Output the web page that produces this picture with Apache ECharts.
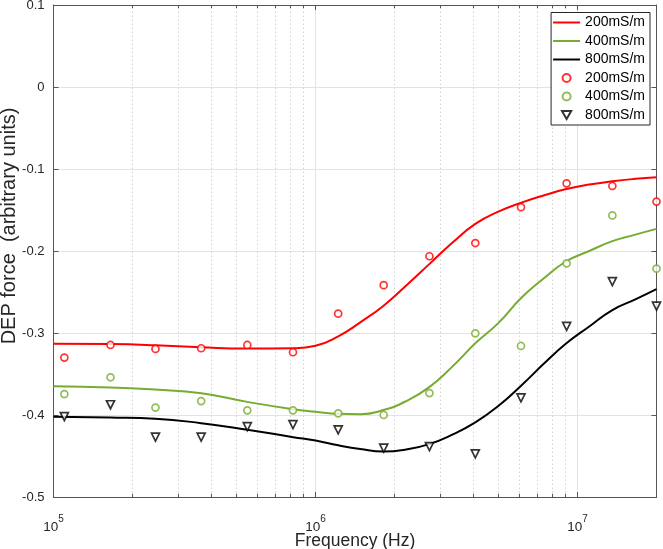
<!DOCTYPE html>
<html>
<head>
<meta charset="utf-8">
<script src="https://cdn.jsdelivr.net/npm/echarts@6/dist/echarts.min.js"></script>
<style>
html,body{margin:0;padding:0;background:#fff;}
#chart{width:663px;height:549px;}
</style>
</head>
<body>
<div id="chart"></div>
<script>
// Measured data points (frequency in Hz)
const measFreq = [1.1e5, 1.65e5, 2.45e5, 3.66e5, 5.49e5, 8.2e5, 1.22e6, 1.82e6, 2.72e6, 4.07e6, 6.08e6, 9.08e6, 1.357e7, 2.0e7];
const meas200 = [-0.330, -0.3146, -0.3194, -0.3186, -0.3146, -0.3235, -0.2764, -0.2417, -0.2064, -0.1903, -0.1465, -0.1175, -0.1207, -0.1397];
const meas400 = [-0.3745, -0.354, -0.391, -0.383, -0.3943, -0.3943, -0.398, -0.400, -0.3733, -0.3004, -0.3158, -0.215, -0.1566, -0.2215];
const meas800 = [-0.402, -0.3875, -0.427, -0.427, -0.4142, -0.4118, -0.4182, -0.4405, -0.4385, -0.4474, -0.379, -0.2919, -0.2373, -0.2672];

// Fitted curves sampled at these frequencies
const fitFreq = [1e5, 1.646e5, 2.445e5, 3.662e5, 5.486e5, 8.22e5, 1.0e6, 1.221e6, 1.481e6, 1.813e6, 2.219e6, 2.716e6, 3.325e6, 4.07e6, 4.98e6, 6.10e6, 7.46e6, 9.06e6, 1.108e7, 1.357e7, 1.661e7, 2.0e7];
const fit200 = [-0.313, -0.3135, -0.315, -0.3175, -0.319, -0.3185, -0.3155, -0.304, -0.287, -0.267, -0.242, -0.216, -0.190, -0.167, -0.152, -0.141, -0.132, -0.1245, -0.119, -0.115, -0.112, -0.110];
const fit400 = [-0.365, -0.3665, -0.369, -0.3735, -0.384, -0.393, -0.396, -0.3985, -0.399, -0.394, -0.383, -0.366, -0.341, -0.3126, -0.288, -0.257, -0.233, -0.2125, -0.200, -0.188, -0.180, -0.173];
const fit800 = [-0.402, -0.403, -0.4045, -0.410, -0.418, -0.427, -0.4312, -0.437, -0.4415, -0.4445, -0.442, -0.4355, -0.424, -0.409, -0.389, -0.364, -0.337, -0.3126, -0.292, -0.272, -0.259, -0.2465];

// Axis settings
const xMin = 1e5, xMax = 2e7;
const yMin = -0.5, yMax = 0.1, yStep = 0.1;
const minorX = [2e5,3e5,4e5,5e5,6e5,7e5,8e5,9e5,2e6,3e6,4e6,5e6,6e6,7e6,8e6,9e6];

const seriesNames = ['200mS/m', '400mS/m', '800mS/m'];
const ZW = '\u200b';

const FONT = "'Liberation Sans', Arial, Helvetica, sans-serif";
const AXIS_COLOR = '#555555';
const TEXT_COLOR = '#262626';
const GRID_COLOR = '#e3e3e3';
const RED = '#ff0000', GREEN = '#77ac30', BLACK = '#000000';

function pairs(xs, ys){ return xs.map((x,i)=>[x, ys[i]]); }

const chart = echarts.init(document.getElementById('chart'), null, {renderer:'canvas'});

const minorGrid = minorX.map(v => ({xAxis: v}));
const minorTicks = [];
minorX.forEach(v => {
  minorTicks.push([{coord:[v, yMin]}, {coord:[v, yMin + 0.0038]}]);
  minorTicks.push([{coord:[v, yMax]}, {coord:[v, yMax - 0.0038]}]);
});

function xLabel(v){
  const e = Math.round(Math.log10(v));
  if (Math.abs(v / Math.pow(10, e) - 1) > 1e-6) return '';
  return '{b|10}{s|' + e + '}';
}

const LINE_ICON = 'path://M0,0 L30,0 L30,2.2 L0,2.2 Z';
const TRI_ICON = 'path://M0,0 L10,0 L5,8.66 Z';

const option = {
  backgroundColor: '#fff',
  animation: false,
  textStyle: {fontFamily: FONT},
  grid: {left: 53.5, right: 6.5, top: 5, bottom: 52, containLabel: false, outerBoundsMode: 'none'},
  legend: {
    orient: 'vertical',
    right: 13, top: 12.5,
    padding: [3, 5, 3, 2],
    backgroundColor: '#fff',
    borderColor: '#262626', borderWidth: 1,
    itemWidth: 27, itemHeight: 8, itemGap: 4.5,
    textStyle: {fontSize: 14, color: '#000', fontFamily: FONT},
    formatter: n => n.replace(ZW, ''),
    data: [
      {name: seriesNames[0], icon: LINE_ICON, itemStyle: {color: RED, borderWidth: 0}},
      {name: seriesNames[1], icon: LINE_ICON, itemStyle: {color: GREEN, borderWidth: 0}},
      {name: seriesNames[2], icon: LINE_ICON, itemStyle: {color: BLACK, borderWidth: 0}},
      {name: seriesNames[0]+ZW, icon: 'circle'},
      {name: seriesNames[1]+ZW, icon: 'circle'},
      {name: seriesNames[2]+ZW, icon: TRI_ICON, symbolRotate: 0}
    ]
  },
  xAxis: [{
    type: 'log', logBase: 10, min: xMin, max: xMax,
    position: 'bottom',
    name: 'Frequency (Hz)', nameLocation: 'middle', nameGap: 35, nameMoveOverlap: false,
    nameTextStyle: {fontSize: 17.5, color: TEXT_COLOR, fontFamily: FONT},
    axisLine: {show: true, onZero: false, lineStyle: {color: AXIS_COLOR, width: 1}},
    axisTick: {show: true, inside: true, length: 5, lineStyle: {color: AXIS_COLOR}},
    splitLine: {show: true, lineStyle: {color: GRID_COLOR, width: 1}},
    minorTick: {show: false}, minorSplitLine: {show: false},
    axisLabel: {
      margin: 10, color: TEXT_COLOR, fontFamily: FONT,
      padding: [7, 0, 0, 0],
      formatter: xLabel,
      rich: {
        b: {fontSize: 13.5, color: TEXT_COLOR, fontFamily: FONT, verticalAlign: 'bottom', lineHeight: 20},
        s: {fontSize: 10, color: TEXT_COLOR, fontFamily: FONT, verticalAlign: 'top', lineHeight: 20}
      }
    }
  }, {
    type: 'log', logBase: 10, min: xMin, max: xMax,
    position: 'top',
    axisLine: {show: true, onZero: false, lineStyle: {color: AXIS_COLOR, width: 1}},
    axisTick: {show: true, inside: true, length: 5, lineStyle: {color: AXIS_COLOR}},
    axisLabel: {show: false},
    splitLine: {show: false}
  }],
  yAxis: [{
    type: 'value', min: yMin, max: yMax, interval: yStep,
    position: 'left',
    name: 'DEP force  (arbitrary units)', nameLocation: 'middle', nameGap: 34, nameMoveOverlap: false,
    nameTextStyle: {fontSize: 20, color: TEXT_COLOR, fontFamily: FONT, padding: [0, 0, 0, 50]},
    axisLine: {show: true, onZero: false, lineStyle: {color: AXIS_COLOR, width: 1}},
    axisTick: {show: true, inside: true, length: 5, lineStyle: {color: AXIS_COLOR}},
    splitLine: {show: true, lineStyle: {color: GRID_COLOR, width: 1}},
    axisLabel: {
      margin: 9, fontSize: 13, color: TEXT_COLOR, fontFamily: FONT,
      formatter: v => { const r = Math.round(v * 10) / 10; return r === 0 ? '0' : String(r); }
    }
  }, {
    type: 'value', min: yMin, max: yMax, interval: yStep,
    position: 'right',
    axisLine: {show: true, onZero: false, lineStyle: {color: AXIS_COLOR, width: 1}},
    axisTick: {show: true, inside: true, length: 5, lineStyle: {color: AXIS_COLOR}},
    axisLabel: {show: false},
    splitLine: {show: false}
  }],
  series: [
    {
      name: seriesNames[0], type: 'line', xAxisIndex: 0, yAxisIndex: 0,
      data: pairs(fitFreq, fit200), symbol: 'none', smooth: 0.5,
      lineStyle: {color: RED, width: 2}, itemStyle: {color: RED}, z: 3,
      markLine: {
        silent: true, symbol: 'none', label: {show: false},
        lineStyle: {color: '#d4d4d4', type: [1.5, 2.5], width: 1},
        data: minorGrid, z: 1
      }
    },
    {
      name: seriesNames[1], type: 'line', data: pairs(fitFreq, fit400), symbol: 'none', smooth: 0.5,
      lineStyle: {color: GREEN, width: 2}, itemStyle: {color: GREEN}, z: 3,
      markLine: {
        silent: true, symbol: 'none', label: {show: false},
        lineStyle: {color: AXIS_COLOR, type: 'solid', width: 1},
        data: minorTicks
      }
    },
    {
      name: seriesNames[2], type: 'line', data: pairs(fitFreq, fit800), symbol: 'none', smooth: 0.5,
      lineStyle: {color: BLACK, width: 2}, itemStyle: {color: BLACK}, z: 3
    },
    {
      name: seriesNames[0]+ZW, type: 'scatter', data: pairs(measFreq, meas200),
      symbol: 'circle', symbolSize: 7,
      itemStyle: {color: '#fff', borderColor: RED, borderWidth: 1.7}, z: 4
    },
    {
      name: seriesNames[1]+ZW, type: 'scatter', data: pairs(measFreq, meas400),
      symbol: 'circle', symbolSize: 7,
      itemStyle: {color: '#fff', borderColor: GREEN, borderWidth: 1.7}, z: 4
    },
    {
      name: seriesNames[2]+ZW, type: 'scatter', data: pairs(measFreq, meas800),
      symbol: 'triangle', symbolRotate: 180, symbolSize: 8,
      itemStyle: {color: '#fff', borderColor: BLACK, borderWidth: 1.7}, z: 4
    }
  ]
};
chart.setOption(option);
</script>
</body>
</html>
